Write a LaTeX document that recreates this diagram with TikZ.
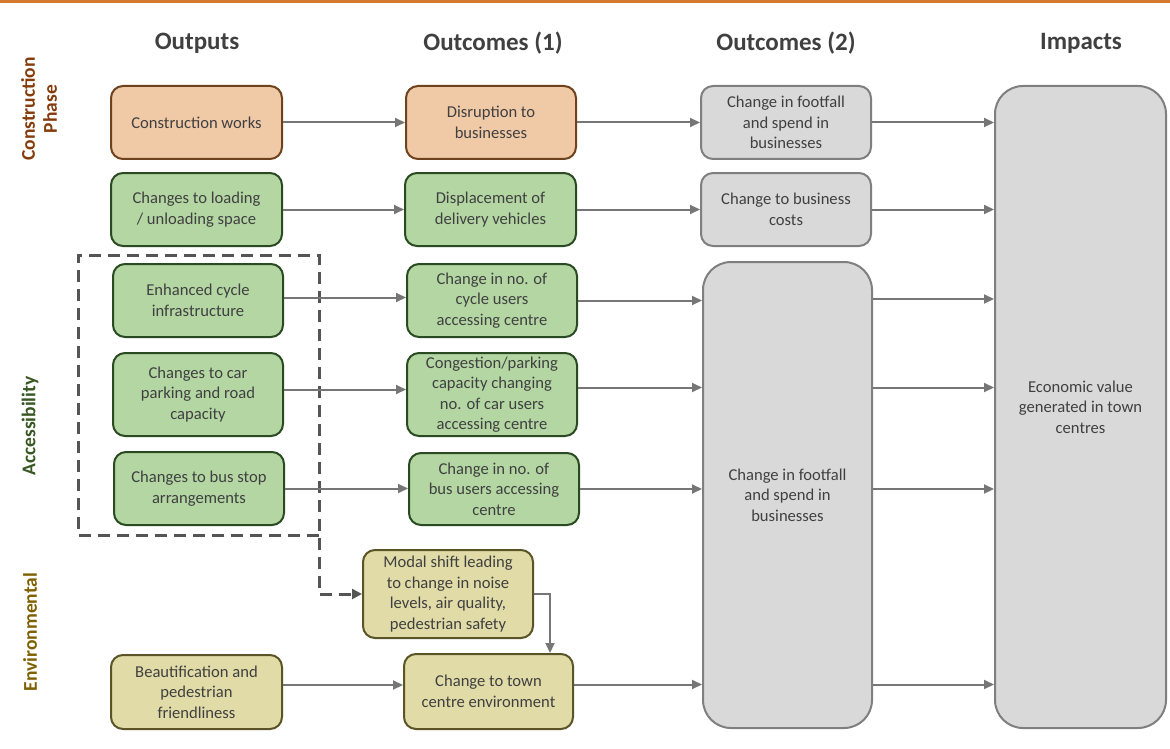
\documentclass[tikz,border=0pt]{standalone}
\usepackage{fontspec}
\setmainfont{Carlito}
\usetikzlibrary{arrows.meta}
\definecolor{txt}{HTML}{404040}
\definecolor{topbar}{HTML}{D5782F}
\definecolor{orfill}{HTML}{F0C9A7}
\definecolor{ordraw}{HTML}{6E421C}
\definecolor{grfill}{HTML}{B3D6A3}
\definecolor{grdraw}{HTML}{2A4A21}
\definecolor{yefill}{HTML}{E0DBA7}
\definecolor{yedraw}{HTML}{5A5426}
\definecolor{gyfill}{HTML}{D9D9D9}
\definecolor{gydraw}{HTML}{7F7F7F}
\definecolor{arrcol}{HTML}{767676}
\definecolor{dashcol}{HTML}{555555}
\definecolor{labbrown}{HTML}{843C0C}
\definecolor{labgreen}{HTML}{385723}
\definecolor{labolive}{HTML}{7F6000}
\begin{document}
\begin{tikzpicture}[x=1pt,y=-1pt,
  box/.style={draw, rounded corners=12pt, line width=2pt, align=center, inner sep=0pt,
    font=\fontsize{16.6}{20.5}\selectfont, text=txt, minimum width=170pt, minimum height=73pt},
  orbox/.style={box, fill=orfill, draw=ordraw},
  grbox/.style={box, fill=grfill, draw=grdraw},
  yebox/.style={box, fill=yefill, draw=yedraw},
  gybox/.style={box, fill=gyfill, draw=gydraw},
  head/.style={font=\fontsize{25}{30}\selectfont\bfseries, text=txt},
  side/.style={font=\fontsize{19.5}{22}\selectfont\bfseries, rotate=90, align=center},
  arr/.style={draw=arrcol, line width=2pt, -{Triangle[length=10pt,width=9pt]}, arrcol},
  dashline/.style={draw=dashcol, line width=3pt, dash pattern=on 12pt off 7pt, -{Triangle[length=10pt,width=10pt]}, dashcol}
]
\useasboundingbox (0,0) rectangle (1170,749);
\fill[topbar] (0,0) rectangle (1170,3.5);

% headers
\node[head] (h1) at (197,43) {Outputs};
\node[head] (h2) at (493,43) {Outcomes (1)};
\node[head] (h3) at (786,43) {Outcomes (2)};
\node[head] (h4) at (1081,43) {Impacts};

% side labels
\node[side, text=labbrown] (s1) at (39,109) {Construction\\Phase};
\node[side, text=labgreen] (s2) at (30,426) {Accessibility};
\node[side, text=labolive] (s3) at (30,632) {Environmental};

% column 1
\node[orbox, minimum width=171pt] (cw) at (196.5,122.5) {Construction works};
\node[grbox, minimum width=171pt] (load) at (196.5,209.5) {Changes to loading\\/ unloading space};
\node[grbox] (cyc) at (198,300.5) {Enhanced cycle\\infrastructure};
\node[grbox, minimum height=83pt] (car) at (198,394.5) {Changes to car\\parking and road\\capacity};
\node[grbox] (bus) at (199,488.5) {Changes to bus stop\\arrangements};
\node[yebox, minimum width=171pt, minimum height=74pt] (beau) at (196.5,692) {Beautification and\\pedestrian\\friendliness};

% column 2
\node[orbox] (dis) at (491,122.5) {Disruption to\\businesses};
\node[grbox, minimum width=171pt] (disp) at (490.5,209.5) {Displacement of\\delivery vehicles};
\node[grbox] (ncyc) at (492,300.5) {Change in no. of\\cycle users\\accessing centre};
\node[grbox, minimum height=83pt] (cong) at (492,394.5) {Congestion/parking\\capacity changing\\no. of car users\\accessing centre};
\node[grbox, minimum height=72pt] (nbus) at (494,489) {Change in no. of\\bus users accessing\\centre};
\node[yebox, minimum height=88pt] (modal) at (448,594) {Modal shift leading\\to change in noise\\levels, air quality,\\pedestrian safety};
\node[yebox, minimum width=169pt, minimum height=75pt] (town) at (488.5,691.5) {Change to town\\centre environment};

% column 3
\node[gybox] (foot) at (786,122.5) {Change in footfall\\and spend in\\businesses};
\node[gybox] (cost) at (786,209.5) {Change to business\\costs};
\node[gybox, rounded corners=28pt, minimum width=169pt, minimum height=466pt] (big) at (787.5,495) {Change in footfall\\and spend in\\businesses};

% column 4
\node[gybox, rounded corners=28pt, minimum width=171pt, minimum height=642pt] (imp) at (1080.5,407) {Economic value\\generated in town\\centres};

% helper levels
\coordinate (cycL) at ([yshift=3pt]cyc.east);
\coordinate (cycR) at ([yshift=1.5pt]ncyc.east);
\coordinate (carL) at ([yshift=5pt]car.east);
\coordinate (carR) at ([yshift=7pt]cong.east);
\coordinate (envL) at ([yshift=7pt]beau.east);
\coordinate (envR) at ([yshift=7pt]town.east);

% dashed group
\draw[dashline] (319,535) -- (78,535) -- (78,255) -- (319,255) -- (319,594) -- (modal.west);

% arrows
\draw[arr] (cw.east) -- (dis.west);
\draw[arr] (dis.east) -- (foot.west);
\draw[arr] (foot.east) -- (imp.west |- foot.east);
\draw[arr] (load.east) -- (disp.west);
\draw[arr] (disp.east) -- (cost.west);
\draw[arr] (cost.east) -- (imp.west |- cost.east);

\draw[arr] (cycL) -- (ncyc.west |- cycL);
\draw[arr] (ncyc.east) -- (big.west |- ncyc.east);
\draw[arr] (carL) -- (cong.west |- carL);
\draw[arr] (carR) -- (big.west |- carR);
\draw[arr] (bus.east) -- (nbus.west |- bus.east);
\draw[arr] (nbus.east) -- (big.west |- nbus.east);
\draw[arr] (envL) -- (town.west |- envL);
\draw[arr] (envR) -- (big.west |- envR);

\draw[arr] (big.east |- cycR) -- (imp.west |- cycR);
\draw[arr] (big.east |- carR) -- (imp.west |- carR);
\draw[arr] (big.east |- nbus.east) -- (imp.west |- nbus.east);
\draw[arr] (big.east |- envR) -- (imp.west |- envR);

\draw[arr] (modal.east) -| ([xshift=61.5pt]town.north);
\end{tikzpicture}
\end{document}
